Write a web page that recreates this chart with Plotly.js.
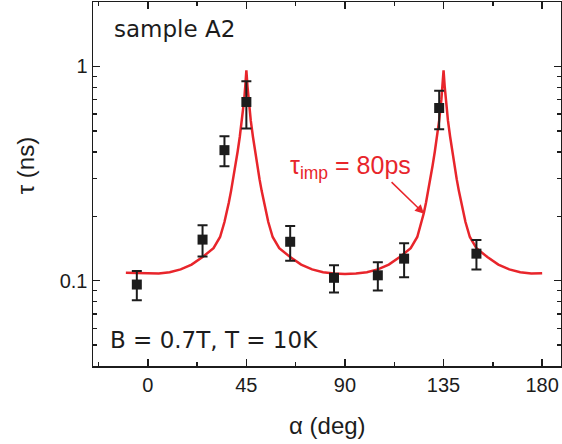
<!DOCTYPE html>
<html><head><meta charset="utf-8">
<script src="https://cdn.plot.ly/plotly-3.0.1.min.js"></script>
<style>html,body{margin:0;padding:0;background:#fff}#plot{width:562px;height:444px}</style>
</head><body><div id="plot"></div>
<script>
// measured data
const alphaDeg = [-5, 25, 35, 45, 65, 85, 105, 117, 133, 150];
const tauNs = [0.096, 0.1556, 0.407, 0.683, 0.152, 0.1032, 0.106, 0.1268, 0.64, 0.1338];
const tauErr = [0.015, 0.026, 0.065, 0.17, 0.028, 0.015, 0.016, 0.023, 0.13, 0.021];

// fit curve
const fitAlpha = [-10,-5,0,5,10,15,20,25,30,33,35,36,37,38,39,40,41,42,43,44,44.5,45,45.5,46,47,48,49,50,51,52,53,54,55,57,60,65,70,75,80,85,90,95,100,105,110,115,120,123,125,126,127,128,129,130,131,132,133,134,134.5,135,135.5,136,137,138,139,140,141,142,143,144,145,147,150,155,160,165,170,175,180];
const fitTau = [0.109,0.1085,0.108,0.108,0.1095,0.113,0.119,0.129,0.142,0.160,0.188,0.207,0.232,0.262,0.298,0.345,0.40,0.47,0.56,0.70,0.81,0.96,0.81,0.70,0.56,0.47,0.40,0.345,0.298,0.262,0.232,0.207,0.188,0.160,0.142,0.129,0.119,0.113,0.1095,0.108,0.1075,0.108,0.1095,0.113,0.119,0.129,0.142,0.160,0.188,0.207,0.232,0.262,0.298,0.345,0.40,0.47,0.56,0.70,0.81,0.96,0.81,0.70,0.56,0.47,0.40,0.345,0.298,0.262,0.232,0.207,0.188,0.160,0.142,0.129,0.119,0.113,0.1095,0.108,0.1085];

const xTickVals = [0, 45, 90, 135, 180];
const xTickText = ['0', '45', '90', '135', '180'];
const yTickVals = [0.1, 1];
const yTickText = ['0.1', '1'];
const yMinorVals = [0.04,0.05,0.06,0.07,0.08,0.09,0.2,0.3,0.4,0.5,0.6,0.7,0.8,0.9,2];

const red = '#e8252b';
const ink = '#1c1c1c';
const F = 'Liberation Sans, Arial, sans-serif';

const traces = [
  {x: fitAlpha, y: fitTau, type: 'scatter', mode: 'lines', line: {color: red, width: 2.5}, hoverinfo: 'skip'},
  {x: alphaDeg, y: tauNs, type: 'scatter', mode: 'markers',
   marker: {symbol: 'square', size: 10, color: ink},
   error_y: {type: 'data', array: tauErr, visible: true, color: ink, thickness: 2, width: 5}}
];

const layout = {
  width: 562, height: 444,
  margin: {l: 93, r: 1, t: 2, b: 78},
  paper_bgcolor: '#fff', plot_bgcolor: '#fff',
  showlegend: false,
  font: {family: F, color: ink, size: 20},
  xaxis: {
    range: [-25, 188.6], showgrid: false, zeroline: false,
    showline: true, linecolor: ink, linewidth: 1.5, mirror: 'ticks',
    ticks: 'inside', ticklen: 7, tickwidth: 1.5, tickcolor: ink,
    tickvals: xTickVals, ticktext: xTickText,
    tickfont: {family: F, size: 20, color: ink},
    minor: {tickvals: [-22.5, 22.5, 67.5, 112.5, 157.5], ticks: 'inside', ticklen: 4, tickwidth: 1.5, tickcolor: ink}
  },
  yaxis: {
    type: 'log', range: [Math.log10(0.04), Math.log10(2)],
    showgrid: false, zeroline: false,
    showline: true, linecolor: ink, linewidth: 1.5, mirror: 'ticks',
    ticks: 'inside', ticklen: 7, tickwidth: 1.5, tickcolor: ink,
    tickvals: yTickVals, ticktext: yTickText,
    tickfont: {family: F, size: 20, color: ink},
    minor: {tickvals: yMinorVals, ticks: 'inside', ticklen: 4, tickwidth: 1.5, tickcolor: ink}
  },
  annotations: [
    {xref: 'paper', yref: 'paper', x: (25-93)/468, y: (366-166)/364.5, text: 'τ (ns)', textangle: -90,
     showarrow: false, font: {family: F, size: 24, color: ink}, xanchor: 'center', yanchor: 'middle'},
    {xref: 'paper', yref: 'paper', x: 0.5, y: (366-426)/364.5, text: 'α (deg)',
     showarrow: false, font: {family: F, size: 24, color: ink}, xanchor: 'center', yanchor: 'middle'},
    {xref: 'x', yref: 'y', x: -16.5, y: 0.175, text: 'sample A2', showarrow: false,
     font: {family: 'DejaVu Sans', size: 23, color: ink}, xanchor: 'left', yanchor: 'middle'},
    {xref: 'x', yref: 'y', x: -18.2, y: -1.277, text: 'B = 0.7T, T = 10K', showarrow: false,
     font: {family: 'DejaVu Sans', size: 23, color: ink}, xanchor: 'left', yanchor: 'middle'},
    {xref: 'x', yref: 'y', x: 64, y: -0.467, text: 'τ<sub>imp</sub> = 80ps', showarrow: false,
     font: {family: F, size: 25, color: red}, xanchor: 'left', yanchor: 'middle'},
    {xref: 'x', yref: 'y', x: 126.1, y: -0.687, ax: -34, ay: -33, text: '', showarrow: true,
     arrowcolor: red, arrowwidth: 1.5, arrowhead: 2, arrowsize: 1.2}
  ]
};

Plotly.newPlot('plot', traces, layout, {displayModeBar: false, staticPlot: true});
</script></body></html>
